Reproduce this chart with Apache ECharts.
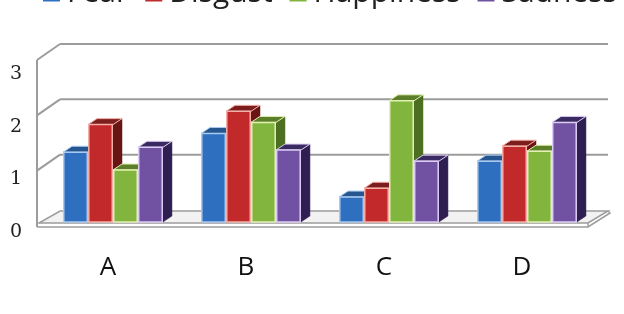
<!DOCTYPE html>
<html>
<head>
<meta charset="utf-8">
<script src="https://cdn.jsdelivr.net/npm/echarts@6/dist/echarts.min.js"></script>
<style>
html,body{margin:0;padding:0;background:#fff;}
#chart{width:624px;height:314px;}
</style>
</head>
<body>
<div id="chart"></div>
<script>
const categories = ['A', 'B', 'C', 'D'];
const fear = [1.26, 1.6, 0.45, 1.1];
const disgust = [1.76, 2.0, 0.61, 1.37];
const happiness = [0.94, 1.8, 2.19, 1.28];
const sadness = [1.35, 1.3, 1.1, 1.8];
const seriesNames = ['Fear', 'Disgust', 'Happiness', 'Sadness'];
const yTicks = [0, 1, 2, 3];

const palette = [
  {front: '#2e6fc0', side: '#1c4778', top: '#25568f', edge: '#a9c9f0'},
  {front: '#c2292b', side: '#6a1515', top: '#7c1e1e', edge: '#f4b0a8'},
  {front: '#82b53e', side: '#4d6f22', top: '#5a7f28', edge: '#e2f0b4'},
  {front: '#7152a2', side: '#2e1e52', top: '#3a2a62', edge: '#dccbf2'}
];

const DX = 9, DY = 6;

function barRender(si) {
  return function (params, api) {
    const cat = api.value(0), v = api.value(1);
    const base = api.coord([cat, 0]);
    const top = api.coord([cat, v]);
    const band = api.size([1, 0])[0];
    const w = band * 0.181;
    const x0 = base[0] - 2 * w + si * w;
    const x1 = x0 + w;
    const y0 = base[1], ty = top[1];
    const c = palette[si];
    return {
      type: 'group',
      children: [
        {type: 'polygon', shape: {points: [[x1, ty], [x1 + DX, ty - DY], [x1 + DX, y0 - DY], [x1, y0]]},
         style: {fill: c.side, stroke: c.side, lineWidth: 0.5}},
        {type: 'polygon', shape: {points: [[x0, ty], [x0 + DX, ty - DY], [x1 + DX, ty - DY], [x1, ty]]},
         style: {fill: c.top, stroke: c.edge, lineWidth: 1}},
        {type: 'rect', shape: {x: x0 + 0.75, y: ty, width: w - 1.5, height: y0 - ty},
         style: {fill: c.front, stroke: c.edge, lineWidth: 1.5}}
      ]
    };
  };
}

function frameRender(params, api) {
  const cs = params.coordSys;
  const L = cs.x, R = cs.x + cs.width;
  const v = api.value(1);
  const y = api.coord([0, v])[1];
  const stroke = '#9c9c9c';
  const children = [];
  if (v === 0) {
    children.push({type: 'polygon', shape: {points: [[L - 5, y + 1], [R - 8, y + 1], [R + 12, y - 11], [L + 16, y - 11]]},
      style: {fill: '#f2f2f2', stroke: stroke, lineWidth: 1.5}});
    children.push({type: 'polyline', shape: {points: [[L - 7, y + 5], [R - 8, y + 5], [R + 14, y - 9], [R + 12, y - 11]]},
      style: {fill: null, stroke: stroke, lineWidth: 1.5}});
    children.push({type: 'line', shape: {x1: R - 8, y1: y + 1, x2: R - 8, y2: y + 5},
      style: {stroke: stroke, lineWidth: 1.5}});
    const yTop = api.coord([0, yTicks[yTicks.length - 1]])[1];
    children.push({type: 'line', shape: {x1: L - 7, y1: yTop + 4, x2: L - 7, y2: y + 5},
      style: {stroke: stroke, lineWidth: 2}});
  } else {
    children.push({type: 'line', shape: {x1: L + 16, y1: y - 12, x2: R + 12, y2: y - 12},
      style: {stroke: stroke, lineWidth: 2}});
    children.push({type: 'line', shape: {x1: L - 7, y1: y + 4, x2: L + 16, y2: y - 12},
      style: {stroke: stroke, lineWidth: 2}});
  }
  return {type: 'group', children: children};
}

const valueLists = [fear, disgust, happiness, sadness];
const series = [{
  type: 'custom',
  xAxisIndex: 0, yAxisIndex: 0,
  silent: true, z: 1,
  renderItem: frameRender,
  data: yTicks.map(t => [0, t]),
  encode: {x: 0, y: 1}
}];
valueLists.forEach((vals, si) => {
  series.push({
    name: seriesNames[si],
    type: 'custom',
    xAxisIndex: 0, yAxisIndex: 0,
    z: 2,
    itemStyle: {color: palette[si].front},
    renderItem: barRender(si),
    data: vals.map((v, i) => [i, v]),
    encode: {x: 0, y: 1}
  });
});

const chart = echarts.init(document.getElementById('chart'), null, {renderer: 'canvas'});
chart.setOption({
  backgroundColor: '#ffffff',
  animation: false,
  legend: {
    top: -22, left: 43, padding: 0,
    itemWidth: 17, itemHeight: 17, itemGap: 17,
    icon: 'rect',
    textStyle: {fontFamily: 'Open Sans', fontSize: 30, color: '#222', padding: [0, 0, 0, 2]},
    data: seriesNames.map((n, i) => ({name: n, itemStyle: {color: palette[i].front}}))
  },
  grid: [
    {left: 44, right: 28, top: 56, bottom: 92},
    {left: 26, width: 10, top: 74, height: 158}
  ],
  xAxis: [
    {type: 'category', gridIndex: 0, data: categories,
     axisLine: {show: false}, axisTick: {show: false},
     axisLabel: {margin: 33, fontFamily: 'Open Sans', fontSize: 26, color: '#111', padding: [0, 10, 0, 0]}},
    {type: 'value', gridIndex: 1, show: false}
  ],
  yAxis: [
    {type: 'value', gridIndex: 0, min: 0, max: 3, interval: 1, show: false,
     splitLine: {show: false}},
    {type: 'value', gridIndex: 1, min: 0, max: 3, interval: 1,
     axisLine: {show: false}, axisTick: {show: false}, splitLine: {show: false},
     axisLabel: {margin: 4, fontFamily: 'DejaVu Serif', fontSize: 19, color: '#222'}}
  ],
  series: series
});
</script>
</body>
</html>
